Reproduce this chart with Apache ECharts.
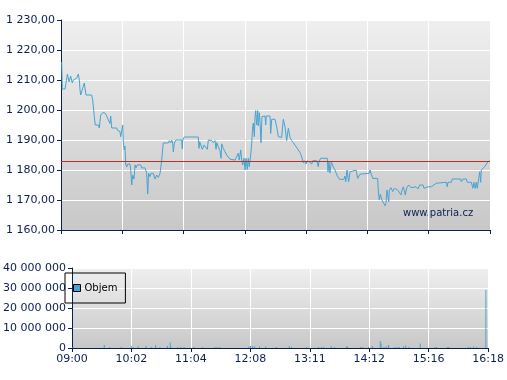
<!DOCTYPE html>
<html>
<head>
<meta charset="utf-8">
<script src="https://cdn.jsdelivr.net/npm/echarts@6/dist/echarts.min.js"></script>
<style>
html,body{margin:0;padding:0;background:#fff;}
#chart{width:507px;height:380px;}
</style>
</head>
<body>
<div id="chart"></div>
<script>
// Time axis: minutes since 09:00; session ends at 16:18 (438 minutes)
const sessionMinutes = 438;
const timeTickLabels = ['09:00','10:02','11:04','12:08','13:11','14:12','15:16','16:18'];
const prevClose = 1183;
const priceTicks = [1160, 1230, 10];
const volumeTicks = [0, 40000000, 10000000];
const watermark = 'www.patria.cz';
const volumeName = 'Objem';

// Price: [minute, price]
const priceTimes = [0.7,1.3,4.1,4.6,6.4,6.6,8.2,9.9,11.5,12.6,14.3,16.0,17.7,18.7,19.4,20.1,21.7,23.8,25.5,31.3,32.4,34.0,35.0,38.1,39.1,40.5,42.6,44.9,46.7,48.3,50.0,50.7,51.8,56.9,57.5,60.2,61.0,62.0,63.0,63.6,64.6,65.3,66.1,67.1,68.1,69.1,70.4,71.2,72.2,73.2,74.5,75.6,76.6,77.9,79.9,81.4,82.4,85.8,87.5,88.5,89.5,90.9,91.9,94.2,96.0,97.7,99.3,101.1,102.8,104.4,109.6,110.6,112.0,113.0,114.0,114.7,115.7,117.4,123.2,123.8,124.3,125.9,140.2,140.9,141.6,142.6,144.3,146.0,148.0,149.4,150.4,153.9,155.5,157.2,158.3,159.0,160.6,162.3,163.4,164.1,165.7,167.4,169.2,170.8,172.5,174.3,177.7,179.4,181.0,182.0,183.5,184.5,185.5,186.8,187.9,188.9,190.2,191.2,192.2,193.7,194.7,195.7,196.3,197.4,198.1,198.8,199.8,200.8,201.4,202.5,203.2,204.2,205.2,206.5,208.3,209.0,209.6,213.4,214.1,215.1,218.5,220.2,221.9,225.3,227.0,228.7,230.4,232.1,233.8,235.5,237.2,238.9,240.6,242.3,244.0,245.7,247.4,248.4,250.1,251.5,253.5,256.0,257.0,261.1,262.7,263.4,265.1,271.9,272.6,273.6,274.6,276.0,278.0,279.7,282.1,284.5,288.9,290.0,290.7,292.0,292.7,293.7,295.1,296.1,301.2,302.9,304.6,305.3,306.3,314.8,315.5,316.8,318.2,323.3,324.0,325.0,326.0,327.7,329.1,330.8,331.8,332.8,334.6,335.2,336.9,338.7,340.3,342.0,343.8,345.4,347.1,348.2,349.5,351.5,353.0,355.0,357.3,359.1,362.4,364.5,366.2,369.6,370.6,371.9,374.7,376.4,378.1,379.8,383.2,384.2,393.4,394.4,395.1,398.5,399.5,408.1,408.7,410.4,413.8,414.8,418.9,420.6,421.6,422.9,424.0,425.0,426.5,427.5,428.5,429.1,432.6,435.9,438.0];
const priceValues = [1216,1207,1207,1208,1208,1212,1209.4,1211.3,1209,1210,1210,1210.6,1212,1210,1206.7,1205,1205,1209,1205,1205,1203.3,1197.8,1195,1195,1194,1198.3,1199.1,1199,1198,1196.7,1195.5,1198,1194,1194,1193.3,1192.8,1191.1,1191,1195,1189.4,1186.7,1188,1181.7,1181,1182,1181.5,1182,1180,1175,1178.3,1177,1181.7,1180.7,1181.7,1182,1181.7,1180.7,1180.7,1178.9,1172,1178.9,1177.8,1178.9,1178.9,1177,1178.3,1177.5,1178.9,1183.3,1189,1189,1189.8,1189,1190,1189,1186,1189,1190,1190,1187,1190,1191,1191,1187.2,1189.4,1188.9,1186.9,1188.3,1187.8,1186.9,1190,1189.8,1189.1,1189.8,1186.9,1189.1,1187.8,1186.4,1183.9,1188.7,1187.2,1186.1,1185,1184.4,1183.6,1183.3,1183.3,1183.9,1185.6,1183.3,1186.7,1183.3,1181.7,1183.9,1180,1183.9,1180.2,1183.9,1181.1,1185,1188.9,1194.4,1195.6,1191.1,1197.8,1199.8,1195,1199.8,1194.7,1199.1,1196.1,1189.1,1197.8,1198,1198,1195,1198,1198,1192.2,1196.9,1196.9,1194.4,1191.1,1190.9,1196.9,1194.4,1189.8,1193.9,1190.9,1189.8,1189.1,1188.3,1187.8,1186.7,1185.8,1184.4,1182.4,1183.1,1182,1183.1,1183.1,1182,1183.1,1183.1,1181.1,1182.8,1183.9,1183.9,1179.4,1182.8,1179,1182.8,1181,1180,1178,1176.9,1176.9,1178,1176.1,1180,1178.3,1176.1,1179.4,1180,1180,1177.2,1177.2,1178.6,1178.9,1178.9,1180,1178.6,1177.2,1177.2,1173,1170,1171.9,1170,1169.4,1168.1,1168.9,1173.3,1169.4,1173.3,1174.1,1172.8,1173.9,1174.1,1173.3,1173.7,1171.7,1173.3,1174.4,1171.7,1174.1,1175,1174.1,1173.7,1174.4,1173.7,1175,1175,1173.9,1174.4,1174.4,1173.9,1174.4,1175,1175.6,1175.9,1175.9,1174.4,1175.9,1175.9,1177,1177,1176.1,1177,1177,1175.9,1175.9,1173.9,1175.9,1173.9,1175.9,1173.9,1177.2,1179.4,1175.9,1180,1181.1,1182.8,1183];

// Volume: [minute, shares]
const volumeTimes = [1.0,34.0,39.8,51.8,62.3,64.3,69.7,77.9,83.4,88.1,92.6,100.4,103.4,104.4,111.3,114.7,118.1,128.3,137.5,150.4,152.8,155.5,186.1,187.9,190.2,192.3,197.4,203.9,215.1,228.7,231.1,246.8,259.3,262.7,265.1,272.9,276.4,289.2,290.3,303.5,306.0,312.1,316.2,324.4,325.4,328.4,330.8,333.2,339.3,342.0,344.4,348.9,351.2,354.6,366.5,381.9,383.6,395.4,396.4,416.9,419.3,422.7,426.1,435.6];
const volumeValues = [500000,1500000,500000,500000,1000000,500000,1000000,1000000,500000,1500000,500000,1000000,2800000,500000,500000,500000,500000,500000,500000,500000,500000,500000,800000,1000000,1000000,700000,700000,700000,500000,1000000,500000,500000,500000,500000,500000,1000000,500000,1000000,500000,500000,500000,500000,1000000,3500000,2200000,500000,800000,1500000,500000,500000,500000,700000,1200000,500000,2200000,500000,500000,500000,500000,500000,500000,800000,500000,29000000];

function fmtNum(v, dec) {
  const s = Number(v).toFixed(dec);
  const parts = s.split('.');
  const i = parts[0].replace(/\B(?=(\d{3})+(?!\d))/g, ' ');
  return parts[1] ? i + ',' + parts[1] : i;
}

const navy = '#0b1f52';
const lineColor = '#47a3d1';
const font = 'DejaVu Sans';
const step = sessionMinutes / (timeTickLabels.length - 1);

function bg() {
  return new echarts.graphic.LinearGradient(0, 0, 0, 1, [
    {offset: 0, color: '#efefef'},
    {offset: 1, color: '#c8c8c8'}
  ]);
}

function xAxis(gridIndex, showLabels) {
  return {
    type: 'value', gridIndex: gridIndex, min: 0, max: sessionMinutes, interval: step,
    axisLine: {show: true, lineStyle: {color: navy, width: 1}},
    axisTick: {show: true, length: 4, lineStyle: {color: navy}},
    axisLabel: {
      show: showLabels, color: navy, fontSize: 11, fontFamily: font, margin: 6,
      formatter: v => timeTickLabels[Math.round(v / step)] || ''
    },
    splitLine: {show: true, lineStyle: {color: '#ffffff', width: 1}}
  };
}

const chart = echarts.init(document.getElementById('chart'), null, {renderer: 'canvas'});
chart.setOption({
  animation: false,
  backgroundColor: '#ffffff',
  grid: [
    {left: 61, right: 17, top: 20, height: 210, show: true, backgroundColor: bg(), borderWidth: 0},
    {left: 61, right: 17, top: 268, height: 80, show: true, backgroundColor: bg(), borderWidth: 0}
  ],
  xAxis: [xAxis(0, false), xAxis(1, true)],
  yAxis: [
    {
      type: 'value', gridIndex: 0, min: priceTicks[0], max: priceTicks[1], interval: priceTicks[2],
      axisLine: {show: true, lineStyle: {color: navy}},
      axisTick: {show: true, length: 4, lineStyle: {color: navy}},
      axisLabel: {color: navy, fontSize: 11, fontFamily: font, margin: 6, formatter: v => fmtNum(v, 2)},
      splitLine: {show: true, lineStyle: {color: '#ffffff', width: 1}}
    },
    {
      type: 'value', gridIndex: 1, min: volumeTicks[0], max: volumeTicks[1], interval: volumeTicks[2],
      axisLine: {show: true, lineStyle: {color: navy}},
      axisTick: {show: true, length: 4, lineStyle: {color: navy}},
      axisLabel: {color: navy, fontSize: 11, fontFamily: font, margin: 6, formatter: v => fmtNum(v, 0)},
      splitLine: {show: true, lineStyle: {color: '#ffffff', width: 1}}
    }
  ],
  legend: {
    data: [volumeName],
    left: 65, top: 273,
    padding: [10, 8, 10, 8],
    borderColor: '#000000', borderWidth: 1,
    icon: 'rect', itemWidth: 7, itemHeight: 7, itemGap: 0,
    itemStyle: {borderColor: '#000000', borderWidth: 1},
    textStyle: {color: '#000000', fontSize: 10, fontFamily: font, padding: [0, 0, 0, -1]}
  },
  graphic: [{
    type: 'text', left: 403, top: 208, silent: true,
    style: {text: watermark, fill: navy, font: '10px "DejaVu Sans"'}
  }],
  series: [
    {
      type: 'line', xAxisIndex: 0, yAxisIndex: 0,
      data: priceTimes.map((t, i) => [t, priceValues[i]]),
      showSymbol: false, symbol: 'none',
      lineStyle: {color: lineColor, width: 1},
      markLine: {
        silent: true, symbol: 'none', label: {show: false},
        lineStyle: {color: '#b8302a', width: 1, type: 'solid', opacity: 1},
        data: [{yAxis: prevClose}]
      },
      z: 3
    },
    {
      name: volumeName, type: 'bar', xAxisIndex: 1, yAxisIndex: 1,
      data: volumeTimes.map((t, i) => [t, volumeValues[i]]),
      barWidth: 1,
      itemStyle: {color: lineColor}
    }
  ]
});
</script>
</body>
</html>
